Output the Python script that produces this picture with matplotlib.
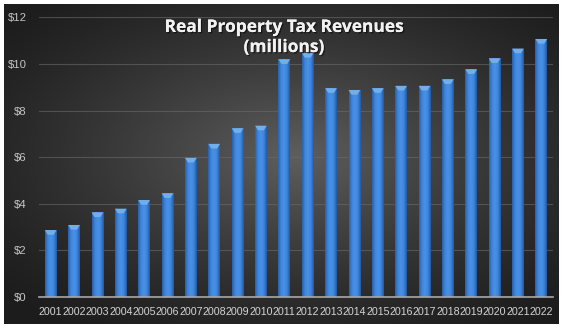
import numpy as np
import matplotlib
matplotlib.use("Agg")
import matplotlib.pyplot as plt
from matplotlib.patches import Polygon
from matplotlib import patheffects as pe
from matplotlib.colors import LinearSegmentedColormap

# Real property tax revenues, millions of dollars
years = [str(y) for y in range(2001, 2023)]
revenues = [2.87, 3.09, 3.63, 3.79, 4.16, 4.45, 5.97, 6.57, 7.24, 7.35, 10.2,
            10.47, 8.96, 8.88, 8.96, 9.06, 9.06, 9.34, 9.77, 10.24, 10.66, 11.07]
y_ticks = [0, 2, 4, 6, 8, 10, 12]
y_tick_labels = [f"${v}" for v in y_ticks]
title = "Real Property Tax Revenues\n(millions)"

W, H, DPI = 561, 326, 100
fig = plt.figure(figsize=(W / DPI, H / DPI), dpi=DPI, facecolor="white")

# dark radial backdrop inside a thin white frame
bg = fig.add_axes([4 / W, 2 / H, (W - 6) / W, (H - 6) / H])
bg.set_axis_off()
gx, gy = np.meshgrid(np.linspace(-1, 1, 400), np.linspace(-1, 1, 240))
r = np.sqrt(((gx - 0.05) / 1.05) ** 2 + ((gy + 0.05) / 1.0) ** 2)
shade = np.clip(1 - r / 1.35, 0, 1) ** 1.3
lo, hi = np.array([0.11, 0.11, 0.11]), np.array([0.37, 0.37, 0.37])
img = lo + (hi - lo) * shade[..., None]
bg.imshow(img, aspect="auto", extent=[0, 1, 0, 1], interpolation="bicubic")
bg.set_xlim(0, 1)
bg.set_ylim(0, 1)

ax = fig.add_axes([39 / W, 29 / H, (553 - 39) / W, (297 - 17.3) / H])
ax.patch.set_alpha(0)
x = np.arange(len(years))
bars = ax.bar(x, revenues, width=0.5, color="#3a7fd4", zorder=3)

# horizontal shading of each bar plus a bevelled highlight on top
bar_cmap = LinearSegmentedColormap.from_list(
    "barshade", ["#2a5fa6", "#3d86dc", "#4a92e6", "#3d86dc", "#2458a0"])
grad = np.linspace(0, 1, 64).reshape(1, -1)
for b in bars:
    x0, w, h = b.get_x(), b.get_width(), b.get_height()
    im = ax.imshow(grad, cmap=bar_cmap, aspect="auto",
                   extent=[x0, x0 + w, 0, h], zorder=3.5)
    im.set_clip_path(b)
    cap_h = 0.2
    cap = Polygon([[x0, h], [x0 + w, h], [x0 + w * 0.75, h - cap_h],
                   [x0 + w * 0.25, h - cap_h]], closed=True,
                  facecolor="#72aeea", edgecolor="none", zorder=4)
    ax.add_patch(cap)
ax.set_xlim(-0.5, len(years) - 0.5)
ax.set_ylim(0, 12)

ax.set_yticks(y_ticks)
ax.set_yticklabels(y_tick_labels)
ax.set_xticks(x)
ax.set_xticklabels(years)
tick_family = ["Liberation Sans", "DejaVu Sans"]
for lbl in ax.get_yticklabels():
    lbl.set_fontsize(8.2)
    lbl.set_color("#c4c4c4")
    lbl.set_family(tick_family)
for lbl in ax.get_xticklabels():
    lbl.set_fontsize(7.7)
    lbl.set_color("#d4d4d4")
    lbl.set_family(tick_family)
ax.tick_params(axis="both", length=0)
ax.tick_params(axis="y", pad=9)
ax.tick_params(axis="x", pad=7)

ax.grid(axis="y", color="#6a6a6a", linewidth=0.8, alpha=0.6, zorder=1)
for s in ["left", "right", "top"]:
    ax.spines[s].set_visible(False)
ax.spines["bottom"].set_color("#a8a8a8")
ax.spines["bottom"].set_linewidth(1.2)
ax.spines["bottom"].set_zorder(5)

fig.text(284 / W, 1 - 37 / H, title, ha="center", va="center",
         fontsize=12.5, fontweight="bold", color="#f2f2f2",
         family=["Open Sans", "DejaVu Sans"], linespacing=1.15,
         path_effects=[pe.withSimplePatchShadow(offset=(1, -1),
                                                shadow_rgbFace="black",
                                                alpha=0.5),
                       pe.Normal()], zorder=10)

fig.savefig("out.png", dpi=DPI, facecolor="white")
